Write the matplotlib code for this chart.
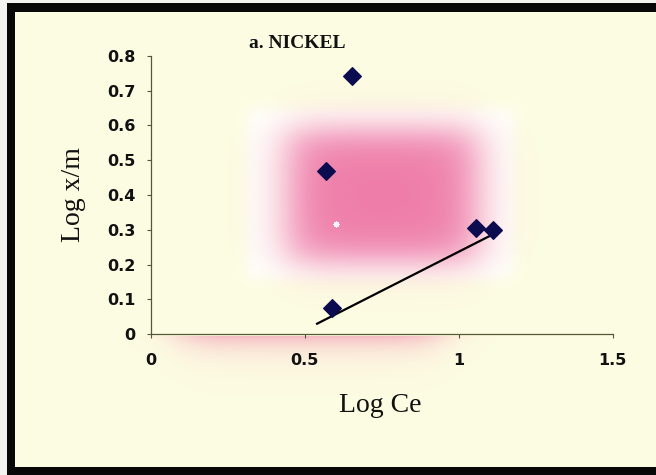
import numpy as np
import matplotlib
matplotlib.use('Agg')
import matplotlib.pyplot as plt

# ---- data ----
log_ce = [0.569, 0.653, 0.588, 1.055, 1.112]
log_xm = [0.470, 0.742, 0.075, 0.304, 0.299]
trend_x = [0.537, 1.140]
trend_y = [0.029, 0.300]
x_ticks = [0, 0.5, 1, 1.5]
x_ticklabels = ['0', '0.5', '1', '1.5']
y_ticks = [0, 0.1, 0.2, 0.3, 0.4, 0.5, 0.6, 0.7, 0.8]
y_ticklabels = ['0', '0.1', '0.2', '0.3', '0.4', '0.5', '0.6', '0.7', '0.8']
title = 'a. NICKEL'
xlabel = 'Log Ce'
ylabel = 'Log x/m'

W, H = 656, 475
fig = plt.figure(figsize=(W / 100, H / 100), dpi=100)

# ---- background (scanned page look) ----
yy, xx = np.mgrid[0:H, 0:W].astype(float)


def box(v, a, b, s):
    return 0.5 * (np.tanh((v - a) / s) - np.tanh((v - b) / s))


outer = np.array([243, 243, 241]) / 255
black = np.array([8, 8, 8]) / 255
cream = np.array([253, 253, 227]) / 255
white = np.array([255, 255, 251]) / 255
pink = np.array([236, 108, 158]) / 255

img = np.ones((H, W, 3)) * cream
hw = (box(xx, 247, 513, 7) * box(yy, 109, 278, 7))[..., None]
img = img * (1 - hw) + white * hw
pw = (0.88 * box(xx, 288, 476, 26) * box(yy, 130, 260, 21))[..., None]
img = img * (1 - pw) + pink * pw
strip = np.where(yy >= 336, 0.45 * box(xx, 180, 440, 28) * np.exp(-(yy - 336) / 14), 0.0)[..., None]
img = img * (1 - strip) + pink * strip
dot = (((xx - 336) ** 2 + (yy - 224) ** 2) <= 9)[..., None]
img = np.where(dot, np.array([255, 240, 245]) / 255, img)

frame_black = (xx >= 7) & (yy >= 3)
inner = (xx >= 15) & (yy >= 12) & (yy < 467)
img[~frame_black] = outer
img[frame_black & ~inner] = black

bg = fig.add_axes([0, 0, 1, 1], zorder=0)
bg.imshow(img, extent=[0, W, H, 0], aspect='auto', interpolation='bilinear')
bg.set_xlim(0, W)
bg.set_ylim(H, 0)
bg.axis('off')

# ---- main axes ----
ax = fig.add_axes([150.7 / W, 1 - 334.3 / H, (612.7 - 150.7) / W, (334.3 - 55.7) / H], zorder=1)
ax.set_facecolor('none')
ax.set_xlim(0, 1.5)
ax.set_ylim(0, 0.8)

ax.plot(trend_x, trend_y, color='black', lw=1.6, solid_capstyle='butt', zorder=2)
ax.plot(log_ce, log_xm, linestyle='none', marker='D', markersize=9.5,
        color='#0b0b4f', markeredgecolor='#0b0b4f', markeredgewidth=0.8, zorder=3)

for s in ['top', 'right']:
    ax.spines[s].set_visible(False)
for s in ['left', 'bottom']:
    ax.spines[s].set_color('#55553a')
    ax.spines[s].set_linewidth(0.9)

ax.set_xticks(x_ticks)
ax.set_xticklabels(x_ticklabels)
ax.set_yticks(y_ticks)
ax.set_yticklabels(y_ticklabels)
ax.tick_params(axis='both', direction='out', length=3, width=0.8, color='#55553a')
ax.tick_params(axis='x', pad=10.5)
ax.tick_params(axis='y', pad=8)
for lab in ax.get_xticklabels() + ax.get_yticklabels():
    lab.set_fontfamily('DejaVu Sans')
    lab.set_fontweight('bold')
    lab.set_fontsize(11.5)
    lab.set_color('#111111')

fig.text(297 / W, 1 - 44 / H, title, ha='center', va='center',
         family='Liberation Serif', fontweight='bold', fontsize=14, color='#111111')
fig.text(380 / W, 1 - 406 / H, xlabel, ha='center', va='center',
         family='Liberation Serif', fontsize=20, color='#111111')
fig.text(73 / W, 1 - 195 / H, ylabel, ha='center', va='center', rotation=90,
         family='Liberation Serif', fontsize=20, color='#111111')

fig.savefig('out.png', dpi=100)
